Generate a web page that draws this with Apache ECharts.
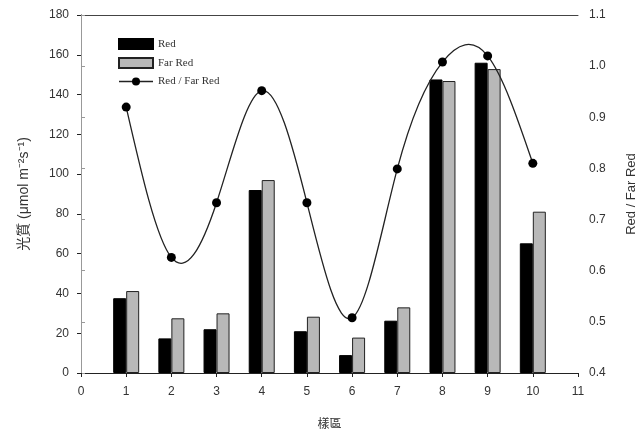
<!DOCTYPE html>
<html><head><meta charset="utf-8">
<script src="https://cdn.jsdelivr.net/npm/echarts@6/dist/echarts.min.js"></script>
<style>html,body{margin:0;padding:0;background:#fff}#c{width:640px;height:437px}</style>
</head><body><div id="c"></div>
<script>
const sites = [1,2,3,4,5,6,7,8,9,10];
const redValues = [37.6,17.4,22,92,21,9,26.3,147.6,156,65.2];
const farRedValues = [41.2,27.5,30,97,28.3,17.8,33,146.8,152.8,81.1];
const ratioValues = [0.92,0.626,0.733,0.952,0.733,0.508,0.799,1.008,1.02,0.81];
const leftTicks = [0,20,40,60,80,100,120,140,160,180];
const rightTicks = [0.4,0.5,0.6,0.7,0.8,0.9,1.0,1.1];

// natural cubic spline slopes at the data knots (used only to render the curve through the data)
function splineSlopes(xs, ys){
  const n = xs.length, M = new Array(n).fill(0);
  const a=[],b=[],c=[],d=[];
  for(let i=1;i<n-1;i++){
    const h0=xs[i]-xs[i-1], h1=xs[i+1]-xs[i];
    a.push(h0/6); b.push((h0+h1)/3); c.push(h1/6);
    d.push((ys[i+1]-ys[i])/h1-(ys[i]-ys[i-1])/h0);
  }
  const m=d.length;
  for(let i=1;i<m;i++){const w=a[i]/b[i-1]; b[i]-=w*c[i-1]; d[i]-=w*d[i-1];}
  const sol=new Array(m);
  for(let i=m-1;i>=0;i--){sol[i]=(d[i]-(i<m-1?c[i]*sol[i+1]:0))/b[i];}
  for(let i=0;i<m;i++) M[i+1]=sol[i];
  const s=[];
  for(let i=0;i<n-1;i++){const h=xs[i+1]-xs[i]; s.push((ys[i+1]-ys[i])/h - h*(2*M[i]+M[i+1])/6);}
  const h=xs[n-1]-xs[n-2];
  s.push((ys[n-1]-ys[n-2])/h + h*(M[n-2]+2*M[n-1])/6);
  return s;
}
const slopes = splineSlopes(sites, ratioValues);

const chart = echarts.init(document.getElementById('c'));
const labelFont = {fontFamily:'Liberation Sans, Arial', fontSize:12, color:'#333'};
chart.setOption({
  animation:false,
  grid:{left:81,right:62,top:15,bottom:64,outerBoundsMode:'none',containLabel:false},
  legend:{
    orient:'vertical', left:113, top:33, itemGap:7, itemWidth:34, itemHeight:10,
    textStyle:{fontFamily:'Liberation Serif, Times New Roman', fontSize:11, color:'#333'},
    data:[
      {name:'Red', icon:'rect'},
      {name:'Far Red', icon:'rect'},
      {name:'Red / Far Red', lineStyle:{opacity:1, color:'#222', width:1.3}}
    ]
  },
  xAxis:[{
    type:'value', min:0, max:11, interval:1,
    name:'樣區', nameLocation:'middle', nameGap:44,
    nameTextStyle:{fontFamily:'Noto Sans CJK TC', fontSize:12, color:'#333'},
    axisLine:{lineStyle:{color:'#222'}},
    axisTick:{length:4, lineStyle:{color:'#222'}},
    axisLabel:Object.assign({margin:13}, labelFont),
    splitLine:{show:false}
  },{
    type:'value', position:'top', min:0, max:11,
    axisLine:{show:true, onZero:false, lineStyle:{color:'#444'}},
    axisTick:{show:false}, axisLabel:{show:false}, splitLine:{show:false}
  }],
  yAxis:[{
    type:'value', min:0, max:180, interval:20,
    name:'光質 (μmol m⁻²s⁻¹)', nameLocation:'middle', nameGap:50, nameRotate:90,
    nameTextStyle:{fontFamily:'Liberation Sans, Noto Sans CJK TC', fontSize:14, color:'#333'},
    axisLine:{show:true, lineStyle:{color:'#222'}},
    axisTick:{show:true, length:4, lineStyle:{color:'#222'}},
    axisLabel:Object.assign({margin:12}, labelFont),
    splitLine:{show:false}
  },{
    type:'value', min:0.4, max:1.1, interval:0.1, position:'right',
    name:'Red / Far Red', nameLocation:'middle', nameGap:47, nameRotate:90,
    nameTextStyle:{fontFamily:'Liberation Sans, Arial', fontSize:13, color:'#333'},
    axisLine:{show:true, lineStyle:{color:'#999'}},
    axisTick:{show:true, length:4, lineStyle:{color:'#999'}},
    axisLabel:Object.assign({margin:11, formatter:v=>v.toFixed(1)}, labelFont),
    splitLine:{show:false}
  }],
  series:[{
    name:'Red', type:'bar', barWidth:13, barGap:'0%',
    itemStyle:{color:'#000', borderColor:'#000', borderWidth:1},
    data:sites.map((s,i)=>[s, redValues[i]])
  },{
    name:'Far Red', type:'bar', barWidth:13, barGap:'0%',
    itemStyle:{color:'#b8b8b8', borderColor:'#222', borderWidth:1},
    data:sites.map((s,i)=>[s, farRedValues[i]])
  },{
    name:'Red / Far Red', type:'line', yAxisIndex:1,
    symbol:'circle', symbolSize:9,
    lineStyle:{color:'#222', width:1.3, opacity:0},
    itemStyle:{color:'#000'},
    data:sites.map((s,i)=>[s, ratioValues[i]]),
    z:6
  },{
    name:'ratioCurve', type:'custom', yAxisIndex:1, silent:true, z:5,
    data:sites.map((s,i)=>[s, ratioValues[i]]),
    renderItem:function(params, api){
      if(params.dataIndex!==0) return null;
      const pts = sites.map((s,i)=>api.coord([s, ratioValues[i]]));
      let path = 'M'+pts[0][0]+' '+pts[0][1];
      for(let i=0;i<sites.length-1;i++){
        const h = sites[i+1]-sites[i];
        const c1 = api.coord([sites[i]+h/3, ratioValues[i]+h/3*slopes[i]]);
        const c2 = api.coord([sites[i+1]-h/3, ratioValues[i+1]-h/3*slopes[i+1]]);
        path += ' C'+c1[0]+' '+c1[1]+' '+c2[0]+' '+c2[1]+' '+pts[i+1][0]+' '+pts[i+1][1];
      }
      return {type:'path', shape:{pathData:path}, style:{fill:null, stroke:'#222', lineWidth:1.3}};
    }
  }]
});
</script></body></html>
